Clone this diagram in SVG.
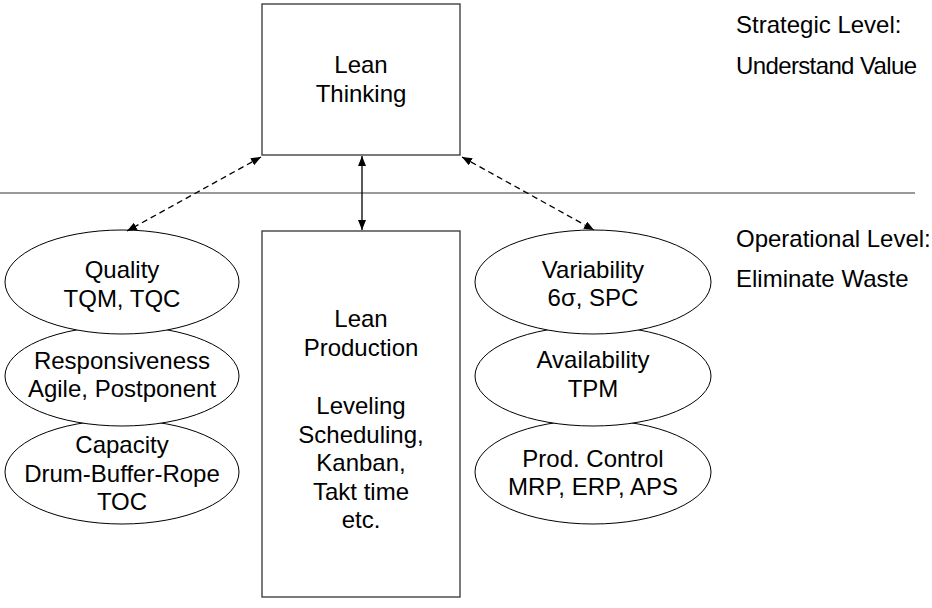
<svg xmlns="http://www.w3.org/2000/svg" width="932" height="608" viewBox="0 0 932 608">
  <style>
    text { font-family: "Liberation Sans", Arial, sans-serif; font-size: 24px; fill: #000; }
    .c { text-anchor: middle; }
    .box { fill: #fff; stroke: #333; stroke-width: 1.3; }
    .ell { fill: #fff; stroke: #000; stroke-width: 1; }
    .divider { stroke: #777; stroke-width: 1.5; }
    .solid { stroke: #000; stroke-width: 1.3; fill: none; }
    .dash { stroke: #000; stroke-width: 1.3; fill: none; stroke-dasharray: 6 4; }
  </style>
  <defs>
    <marker id="arrow" markerUnits="userSpaceOnUse" markerWidth="11" markerHeight="9" refX="10" refY="4" orient="auto-start-reverse">
      <path d="M0,0 L10,4 L0,8 z" fill="#000"/>
    </marker>
  </defs>

  <rect width="932" height="608" fill="#fff"/>

  <!-- level divider -->
  <line class="divider" x1="0" y1="193" x2="915" y2="193"/>

  <!-- level captions -->
  <g id="strategic-label">
    <text x="736" y="33">Strategic Level:</text>
    <text x="736" y="74" textLength="181">Understand Value</text>
  </g>
  <g id="operational-label">
    <text x="736" y="247">Operational Level:</text>
    <text x="736" y="287">Eliminate Waste</text>
  </g>

  <g id="lean-thinking">
    <rect class="box" x="262" y="4" width="198" height="151"/>
    <text class="c" x="361" y="73">Lean</text>
    <text class="c" x="361" y="102">Thinking</text>
  </g>

  <g id="lean-production">
    <rect class="box" x="262" y="231" width="198" height="366"/>
    <text class="c" x="361" y="327">Lean</text>
    <text class="c" x="361" y="356">Production</text>
    <text class="c" x="361" y="414">Leveling</text>
    <text class="c" x="361" y="443">Scheduling,</text>
    <text class="c" x="361" y="471">Kanban,</text>
    <text class="c" x="361" y="500">Takt time</text>
    <text class="c" x="361" y="528">etc.</text>
  </g>

  <!-- left stack, drawn bottom-up so upper ellipses overlap lower ones -->
  <g id="capacity">
    <ellipse class="ell" cx="122" cy="472" rx="117" ry="52"/>
    <text class="c" x="122" y="453">Capacity</text>
    <text class="c" x="122" y="482">Drum-Buffer-Rope</text>
    <text class="c" x="122" y="510">TOC</text>
  </g>
  <g id="responsiveness">
    <ellipse class="ell" cx="122" cy="376" rx="117" ry="50"/>
    <text class="c" x="122" y="369">Responsiveness</text>
    <text class="c" x="122" y="397">Agile, Postponent</text>
  </g>
  <g id="quality">
    <ellipse class="ell" cx="122" cy="282" rx="117" ry="52"/>
    <text class="c" x="122" y="278">Quality</text>
    <text class="c" x="122" y="307">TQM, TQC</text>
  </g>

  <!-- right stack -->
  <g id="prod-control">
    <ellipse class="ell" cx="593" cy="472" rx="118" ry="52"/>
    <text class="c" x="593" y="467">Prod. Control</text>
    <text class="c" x="593" y="495">MRP, ERP, APS</text>
  </g>
  <g id="availability">
    <ellipse class="ell" cx="593" cy="376" rx="118" ry="50"/>
    <text class="c" x="593" y="368">Availability</text>
    <text class="c" x="593" y="397">TPM</text>
  </g>
  <g id="variability">
    <ellipse class="ell" cx="593" cy="282" rx="118" ry="52"/>
    <text class="c" x="593" y="278">Variability</text>
    <text class="c" x="593" y="306">6σ, SPC</text>
  </g>

  <g id="connectors">
    <line class="dash" x1="261" y1="157" x2="127" y2="231" marker-start="url(#arrow)" marker-end="url(#arrow)"/>
    <line class="solid" x1="362" y1="156" x2="362" y2="230" marker-start="url(#arrow)" marker-end="url(#arrow)"/>
    <line class="dash" x1="462" y1="157" x2="594" y2="230" marker-start="url(#arrow)" marker-end="url(#arrow)"/>
  </g>
</svg>
